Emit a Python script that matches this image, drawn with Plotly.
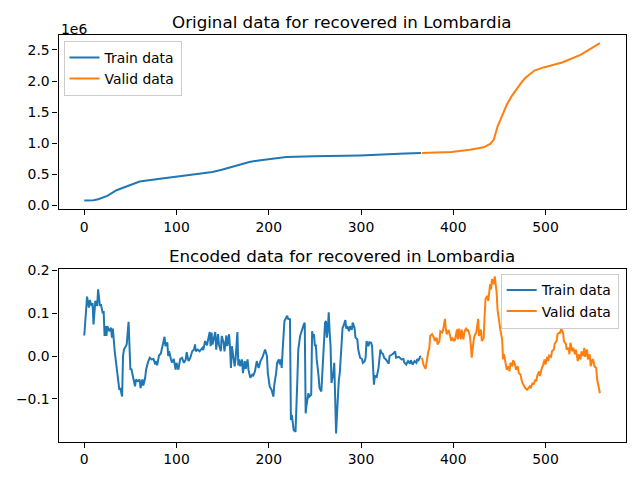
import plotly.graph_objects as go

# ===== data =====

region = "Lombardia"
field = "recovered"

# original series (values in units of 1e6)
orig_train_x = [0, 10, 15, 25, 35, 45, 50, 60, 80, 100, 119, 139, 149, 159, 169, 179, 189, 199,
                219, 249, 299, 348, 365]
orig_train_y = [0.08, 0.085, 0.1, 0.155, 0.245, 0.305, 0.335, 0.385, 0.425, 0.465, 0.495, 0.54,
                0.575, 0.62, 0.665, 0.70, 0.725, 0.745, 0.78, 0.79, 0.805, 0.835, 0.845]
orig_valid_x = [366, 398, 418, 433, 440, 444, 448, 453, 458, 463, 468, 473, 478, 488, 498, 518,
                538, 559]
orig_valid_y = [0.846, 0.86, 0.895, 0.935, 0.99, 1.06, 1.27, 1.46, 1.62, 1.75, 1.86, 1.96, 2.05,
                2.17, 2.22, 2.30, 2.42, 2.61]

# encoded series
enc_train_x = [0, 3, 5, 6, 8, 9, 10, 12, 14, 15, 17, 18, 20, 21, 22, 23, 24, 25, 27, 29, 30, 31,
               33, 35, 36, 38, 39, 41, 42, 43, 45, 46, 48, 49, 50, 51, 52, 54, 55, 56, 58, 60, 61,
               63, 64, 66, 67, 69, 71, 73, 75, 77, 78, 79, 81, 83, 85, 87, 88, 90, 91, 92, 94, 95,
               97, 99, 100, 102, 104, 106, 108, 110, 111, 113, 115, 117, 119, 120, 121, 123, 125,
               128, 129, 131, 133, 134, 136, 137, 138, 139, 141, 142, 143, 145, 146, 148, 149,
               151, 152, 154, 155, 157, 158, 159, 160, 161, 163, 164, 166, 167, 168, 169, 171,
               172, 174, 175, 177, 178, 180, 182, 183, 185, 187, 189, 191, 193, 194, 196, 198,
               199, 201, 203, 205, 206, 208, 209, 211, 212, 213, 214, 215, 217, 218, 220, 221,
               223, 224, 225, 227, 229, 231, 232, 234, 236, 238, 239, 240, 241, 243, 244, 246,
               247, 248, 249, 250, 251, 252, 254, 255, 257, 258, 259, 261, 262, 263, 264, 265,
               266, 267, 268, 270, 271, 272, 273, 274, 275, 276, 277, 279, 280, 281, 283, 284,
               285, 287, 288, 290, 291, 293, 294, 296, 297, 299, 301, 302, 304, 305, 306, 308,
               309, 311, 312, 314, 315, 317, 318, 319, 321, 322, 324, 325, 327, 328, 330, 331,
               332, 334, 335, 337, 338, 340, 341, 344, 346, 347, 349, 351, 353, 354, 356, 358,
               360, 361, 362, 364, 365]
enc_train_y = [0.048, 0.139, 0.113, 0.131, 0.117, 0.124, 0.074, 0.129, 0.117, 0.156, 0.117, 0.121,
               0.10, 0.105, 0.047, 0.07, 0.047, 0.07, 0.058, 0.066, 0.043, 0.064, 0.011, -0.028,
               -0.032, -0.079, -0.075, -0.095, 0.0, 0.015, 0.023, 0.027, 0.08, 0.023, -0.032,
               -0.03, -0.04, -0.055, -0.071, -0.055, -0.059, -0.055, -0.075, -0.055, -0.069,
               -0.051, -0.032, -0.015, -0.004, -0.008, -0.007, -0.02, -0.012, -0.022, 0.001,
               0.006, 0.023, 0.045, 0.023, 0.032, 0.0, 0.011, -0.008, -0.015, -0.007, -0.032,
               -0.016, -0.032, -0.007, -0.004, -0.016, -0.008, 0.009, -0.012, -0.004, 0.011,
               0.015, 0.027, 0.011, 0.015, 0.011, 0.019, 0.014, 0.035, 0.025, 0.039, 0.056, 0.023,
               0.055, 0.027, 0.051, 0.056, 0.015, 0.051, 0.027, 0.011, 0.047, 0.031, 0.011, 0.048,
               0.023, 0.051, 0.019, -0.028, 0.023, 0.008, -0.024, -0.008, 0.056, -0.022, -0.008,
               -0.024, -0.008, -0.04, -0.012, -0.03, -0.008, -0.032, -0.051, -0.044, -0.047,
               -0.036, -0.012, -0.028, -0.012, -0.004, 0.004, 0.015, 0.0, -0.04, -0.071, -0.079,
               -0.095, -0.067, -0.04, -0.016, -0.008, -0.02, -0.008, -0.028, 0.011, 0.082, 0.086,
               0.094, 0.087, 0.086, -0.15, -0.138, -0.173, -0.177, -0.055, 0.015, 0.047, 0.062,
               0.074, 0.078, -0.134, -0.114, -0.087, -0.095, -0.091, 0.058, 0.043, 0.051, 0.023,
               0.027, -0.008, -0.047, -0.075, -0.083, -0.047, 0.008, 0.078, 0.082, 0.043, 0.062,
               0.102, 0.055, 0.023, -0.063, -0.04, -0.016, -0.079, -0.181, -0.134, -0.071,
               -0.055, -0.04, 0.023, 0.066, 0.07, 0.084, 0.064, 0.07, 0.058, 0.07, 0.061, 0.078,
               0.066, 0.043, 0.039, 0.015, -0.004, -0.007, -0.016, -0.012, -0.004, 0.035, 0.023,
               0.032, 0.031, 0.023, -0.067, -0.047, -0.049, -0.04, -0.028, 0.015, 0.008, 0.004,
               -0.004, -0.008, -0.012, -0.018, 0.0, 0.001, 0.004, 0.006, 0.011, -0.004, -0.002,
               -0.002, -0.008, -0.007, -0.015, -0.02, -0.012, -0.018, -0.01, -0.02, -0.012,
               -0.016, -0.007, -0.012, -0.002, 0.0]
enc_valid_x = [366, 367, 368, 370, 371, 373, 374, 375, 377, 379, 380, 382, 383, 385, 386, 388, 389,
               391, 392, 393, 395, 396, 398, 399, 401, 402, 404, 405, 406, 408, 409, 411, 412, 414,
               415, 416, 418, 419, 420, 422, 423, 425, 426, 427, 428, 430, 431, 433, 434, 435, 437,
               438, 440, 441, 442, 444, 445, 447, 448, 450, 451, 453, 454, 455, 457, 458, 460, 461,
               462, 464, 465, 467, 468, 470, 471, 473, 474, 475, 477, 478, 480, 481, 483, 484, 486,
               487, 489, 490, 491, 493, 494, 496, 497, 499, 500, 502, 503, 504, 506, 507, 509, 510,
               512, 513, 515, 516, 517, 519, 520, 522, 523, 525, 526, 527, 529, 530, 532, 533, 535,
               536, 538, 539, 541, 542, 543, 545, 546, 548, 549, 551, 552, 553, 555, 556, 559]
enc_valid_y = [-0.004, -0.012, -0.022, -0.03, -0.012, 0.011, 0.017, 0.047, 0.051, 0.043, 0.035,
               0.043, 0.027, 0.035, 0.058, 0.055, 0.061, 0.087, 0.062, 0.051, 0.061, 0.053, 0.035,
               0.043, 0.035, 0.039, 0.062, 0.039, 0.064, 0.039, 0.062, 0.039, 0.055, 0.066, 0.058,
               0.062, 0.047, 0.027, -0.004, 0.035, 0.047, 0.055, 0.07, 0.087, 0.047, 0.062, 0.035,
               0.043, 0.094, 0.133, 0.141, 0.129, 0.168, 0.156, 0.18, 0.168, 0.186, 0.149, 0.109,
               0.074, 0.062, 0.039, -0.008, 0.004, -0.016, -0.032, -0.024, -0.036, -0.016, -0.024,
               -0.01, -0.02, -0.032, -0.024, -0.04, -0.044, -0.055, -0.063, -0.071, -0.075, -0.079,
               -0.077, -0.071, -0.075, -0.063, -0.067, -0.055, -0.059, -0.047, -0.036, -0.047,
               -0.028, -0.024, -0.008, -0.02, -0.002, -0.012, 0.001, -0.002, 0.011, 0.015, 0.029,
               0.035, 0.051, 0.055, 0.053, 0.064, 0.055, 0.035, 0.029, 0.015, 0.019, 0.004, 0.031,
               0.011, 0.019, 0.004, 0.015, -0.012, 0.004, -0.008, 0.011, 0.0, 0.019, -0.002, 0.015,
               -0.008, 0.004, -0.024, -0.007, -0.012, -0.024, -0.028, -0.055, -0.087]

x_ticks = [0, 100, 200, 300, 400, 500]
orig_ticks = [0.0, 0.5, 1.0, 1.5, 2.0, 2.5]
enc_ticks = [-0.1, 0.0, 0.1, 0.2]

# ===== figure =====

blue = "#1f77b4"
orange = "#ff7f0e"
main_font = "DejaVu Sans"

fig = go.Figure()
fig.add_trace(go.Scatter(x=orig_train_x, y=orig_train_y, mode="lines", name="Train data",
                         line=dict(color=blue, width=2), xaxis="x", yaxis="y", legend="legend"))
fig.add_trace(go.Scatter(x=orig_valid_x, y=orig_valid_y, mode="lines", name="Valid data",
                         line=dict(color=orange, width=2), xaxis="x", yaxis="y", legend="legend"))
fig.add_trace(go.Scatter(x=enc_train_x, y=enc_train_y, mode="lines", name="Train data",
                         line=dict(color=blue, width=2), xaxis="x2", yaxis="y2", legend="legend2"))
fig.add_trace(go.Scatter(x=enc_valid_x, y=enc_valid_y, mode="lines", name="Valid data",
                         line=dict(color=orange, width=2), xaxis="x2", yaxis="y2", legend="legend2"))

# the page puts the plot 8px in from the top-left corner, so take that off
W, H, off = 640, 480, 8
x_dom = [(58.5 - off) / W, (625.7 - off) / W]
top_dom = [(H - 209 + off) / H, (H - 35 + off) / H]
bot_dom = [(H - 441.7 + off) / H, (H - 268.5 + off) / H]

axis_style = dict(showline=True, linecolor="black", linewidth=1.1, mirror=True,
                  ticks="outside", ticklen=5, tickwidth=1.1, tickcolor="black",
                  showgrid=False, zeroline=False, automargin=False,
                  tickfont=dict(family=main_font, size=13.9, color="black"))

x_range = [-27.95, 586.95]

fig.update_layout(
    template="none",
    width=W, height=H,
    margin=dict(l=0, r=0, t=0, b=0),
    paper_bgcolor="white", plot_bgcolor="white",
    font=dict(family=main_font, color="black"),
    xaxis=dict(domain=x_dom, anchor="y", range=x_range, tickvals=x_ticks, **axis_style),
    yaxis=dict(domain=top_dom, anchor="x", range=[-0.056, 2.741], tickvals=orig_ticks,
               tickformat=".1f", **axis_style),
    xaxis2=dict(domain=x_dom, anchor="y2", range=x_range, tickvals=x_ticks, **axis_style),
    yaxis2=dict(domain=bot_dom, anchor="x2", range=[-0.2005, 0.2047], tickvals=enc_ticks,
                tickformat=".1f", **axis_style),
    legend=dict(x=x_dom[0] + 5 / W, y=top_dom[1] - 6 / H, xanchor="left", yanchor="top",
                bgcolor="rgba(255,255,255,0.8)", bordercolor="#cccccc", borderwidth=1,
                font=dict(family=main_font, size=13.9, color="black"), tracegroupgap=0),
    legend2=dict(x=x_dom[1] - 7 / W, y=bot_dom[1] - 5 / H, xanchor="right", yanchor="top",
                 bgcolor="rgba(255,255,255,0.8)", bordercolor="#cccccc", borderwidth=1,
                 font=dict(family=main_font, size=13.9, color="black"), tracegroupgap=0),
)

# titles and offset text, placed like matplotlib does
x_mid = (x_dom[0] + x_dom[1]) / 2
fig.add_annotation(x=x_mid, y=top_dom[1], xref="paper", yref="paper", yshift=1,
                   text=f"Original data for {field} in {region}", showarrow=False,
                   xanchor="center", yanchor="bottom",
                   font=dict(family=main_font, size=16.7, color="black"))
fig.add_annotation(x=x_mid, y=bot_dom[1], xref="paper", yref="paper", yshift=1,
                   text=f"Encoded data for {field} in {region}", showarrow=False,
                   xanchor="center", yanchor="bottom",
                   font=dict(family=main_font, size=16.7, color="black"))
fig.add_annotation(x=x_dom[0], y=top_dom[1], xref="paper", yref="paper", yshift=-4,
                   text="1e6", showarrow=False, xanchor="left", yanchor="bottom",
                   font=dict(family=main_font, size=13.9, color="black"))

fig.write_html("out.html")
